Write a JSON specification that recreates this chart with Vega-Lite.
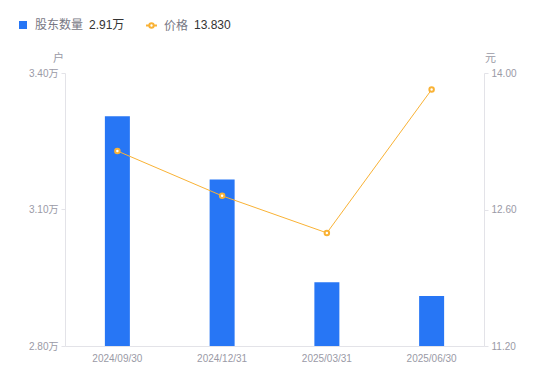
{
  "$schema": "https://vega.github.io/schema/vega-lite/v6.json",
  "width": 419,
  "height": 273,
  "autosize": {"type": "none"},
  "padding": {"left": 65, "top": 73, "right": 66, "bottom": 35},
  "background": "white",
  "config": {
    "view": {"stroke": null},
    "font": "Liberation Sans, Noto Sans CJK SC",
    "axis": {"grid": false, "labelFont": "Liberation Sans, Noto Sans CJK SC", "titleFont": "Liberation Sans, Noto Sans CJK SC"},
    "legend": {"labelFont": "Liberation Sans, Noto Sans CJK SC", "titleFont": "Liberation Sans, Noto Sans CJK SC"}
  },
  "data": {
    "values": [
      {"date": "2024/09/30", "holders": 3.305, "price": 13.20},
      {"date": "2024/12/31", "holders": 3.166, "price": 12.74},
      {"date": "2025/03/31", "holders": 2.94, "price": 12.36},
      {"date": "2025/06/30", "holders": 2.91, "price": 13.83}
    ]
  },
  "encoding": {
    "x": {
      "field": "date", "type": "ordinal", "sort": null,
      "scale": {"paddingInner": 0, "paddingOuter": 0},
      "axis": {"title": null, "labelAngle": 0, "ticks": false, "domainColor": "#E3E3E8", "labelColor": "#9A9AA6", "labelFontSize": 10, "labelPadding": 7}
    }
  },
  "layer": [
    {
      "mark": {"type": "bar", "width": 25, "clip": true},
      "encoding": {
        "y": {
          "field": "holders", "type": "quantitative",
          "scale": {"domain": [2.8, 3.4], "zero": false, "nice": false},
          "axis": {"title": "户", "titleAngle": 0, "titleX": -7, "titleY": -15, "titleAlign": "center", "titleBaseline": "middle", "titleColor": "#9A9AA6", "titleFontSize": 11, "titleFontWeight": "normal",
            "values": [2.8, 3.1, 3.4], "format": ".2f", "labelExpr": "datum.label + '万'",
            "domainColor": "#E3E3E8", "tickColor": "#E3E3E8", "tickSize": 4, "labelColor": "#9A9AA6", "labelFontSize": 10, "labelPadding": 3}
        },
        "fill": {
          "datum": "股东数量", "type": "nominal",
          "scale": {"range": ["#2776F5"]},
          "legend": {"orient": "none", "legendX": -48, "legendY": -54, "direction": "horizontal", "symbolType": "square", "symbolSize": 64, "symbolStrokeWidth": 0,
            "labelFontSize": 12, "labelColor": "#777784", "labelOffset": 6,
            "title": "2.91万", "titleOrient": "right", "titleFontSize": 12, "titleFontWeight": "normal", "titleColor": "#333333", "titlePadding": 6, "titleBaseline": "middle", "padding": 0}
        }
      }
    },
    {
      "mark": {"type": "line", "strokeWidth": 1, "point": {"filled": false, "fill": "white", "size": 20, "strokeWidth": 2}},
      "encoding": {
        "y": {
          "field": "price", "type": "quantitative",
          "scale": {"domain": [11.2, 14.0], "zero": false, "nice": false},
          "axis": {"orient": "right", "title": "元", "titleAngle": 0, "titleX": 6, "titleY": -15, "titleAlign": "center", "titleBaseline": "middle", "titleColor": "#9A9AA6", "titleFontSize": 11, "titleFontWeight": "normal",
            "values": [11.2, 12.6, 14.0], "format": ".2f",
            "domainColor": "#E3E3E8", "tickColor": "#E3E3E8", "tickSize": 4, "labelColor": "#9A9AA6", "labelFontSize": 10, "labelPadding": 3}
        },
        "stroke": {
          "datum": "价格", "type": "nominal",
          "scale": {"range": ["#F9B235"]},
          "legend": {"orient": "none", "legendX": 80, "legendY": -54, "direction": "horizontal",
            "symbolType": "M-1,0H-0.4M0.4,0H1M0.4,0A0.4,0.4 0 1,1 -0.4,0A0.4,0.4 0 1,1 0.4,0Z", "symbolSize": 120, "symbolStrokeWidth": 2, "symbolFillColor": "white",
            "labelFontSize": 12, "labelColor": "#777784", "labelOffset": 6,
            "title": "13.830", "titleOrient": "right", "titleFontSize": 12, "titleFontWeight": "normal", "titleColor": "#333333", "titlePadding": 6, "titleBaseline": "middle", "padding": 0}
        }
      }
    }
  ],
  "resolve": {"scale": {"y": "independent"}}
}
